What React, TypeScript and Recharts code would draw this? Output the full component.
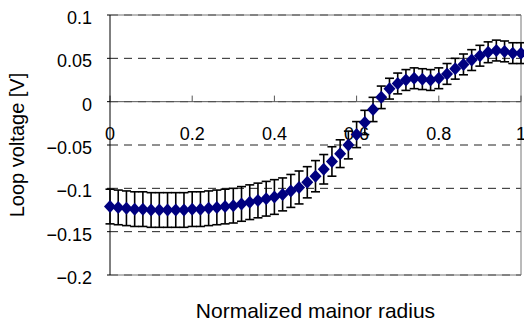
import {
  ScatterChart,
  Scatter,
  XAxis,
  YAxis,
  CartesianGrid,
  ReferenceLine,
  ErrorBar,
} from "recharts";

// normalized minor radius
const radius = [
  0, 0.02, 0.04, 0.06, 0.08, 0.1, 0.12, 0.14, 0.16, 0.18, 0.2, 0.22, 0.24,
  0.26, 0.28, 0.3, 0.32, 0.34, 0.36, 0.38, 0.4, 0.42, 0.44, 0.46, 0.48, 0.5,
  0.52, 0.54, 0.56, 0.58, 0.6, 0.62, 0.64, 0.66, 0.68, 0.7, 0.72, 0.74, 0.76,
  0.78, 0.8, 0.82, 0.84, 0.86, 0.88, 0.9, 0.92, 0.94, 0.96, 0.98, 1,
];

// loop voltage [V]
const voltage = [
  -0.121, -0.122, -0.123, -0.124, -0.124, -0.125, -0.125, -0.125, -0.125,
  -0.125, -0.124, -0.124, -0.123, -0.122, -0.121, -0.12, -0.118, -0.116,
  -0.114, -0.112, -0.11, -0.107, -0.103, -0.099, -0.093, -0.086, -0.078,
  -0.069, -0.06, -0.05, -0.038, -0.024, -0.009, 0.005, 0.015, 0.021, 0.025,
  0.027, 0.026, 0.025, 0.027, 0.032, 0.038, 0.043, 0.048, 0.053, 0.057, 0.059,
  0.058, 0.056, 0.056,
];

// error bar half-length
const spread = [
  0.02, 0.02, 0.02, 0.02, 0.02, 0.02, 0.02, 0.02, 0.02, 0.02, 0.02, 0.02, 0.02,
  0.02, 0.02, 0.02, 0.02, 0.02, 0.02, 0.02, 0.02, 0.019, 0.019, 0.019, 0.018,
  0.018, 0.017, 0.017, 0.016, 0.016, 0.015, 0.014, 0.014, 0.013, 0.012, 0.012,
  0.012, 0.012, 0.012, 0.012, 0.012, 0.012, 0.012, 0.012, 0.012, 0.012, 0.012,
  0.012, 0.012, 0.012, 0.012,
];

const yTicks = [-0.2, -0.15, -0.1, -0.05, 0, 0.05, 0.1];
const xTicks = [0, 0.2, 0.4, 0.6, 0.8, 1];
const xTickLabels = ["0", "0.2", "0.4", "0.6", "0.8", "1"];

const data = radius.map((r, i) => ({ x: r, y: voltage[i], err: spread[i] }));

const FONT = "Liberation Sans, Arial, sans-serif";

const fmtY = (v: number) => (v < 0 ? "\u2212" + Math.abs(v) : String(v));

const YTick = (props: any) => {
  const { x, y, payload } = props;
  return (
    <text x={x} y={y + 9} textAnchor="end" fontSize={18} fontFamily={FONT} fill="#000">
      {fmtY(payload.value)}
    </text>
  );
};

const XTickLabel = (props: any) => {
  const { viewBox, text } = props;
  if (!viewBox) return null;
  return (
    <text
      x={viewBox.x}
      y={viewBox.y + viewBox.height + 38}
      textAnchor="middle"
      fontSize={18}
      fontFamily={FONT}
      fill="#000"
    >
      {text}
    </text>
  );
};

const Diamond = (props: any) => {
  const { cx, cy } = props;
  return (
    <polygon
      points={`${cx},${cy - 6.5} ${cx + 6},${cy} ${cx},${cy + 6.5} ${cx - 6},${cy}`}
      fill="#000080"
    />
  );
};

export default function App() {
  return (
    <div style={{ position: "absolute", left: 0, top: 0, background: "#fff" }}>
      <ScatterChart
        width={524}
        height={326}
        margin={{ top: 15, right: 3, bottom: 0, left: 0 }}
      >
        <CartesianGrid
          vertical={false}
          stroke="#222"
          strokeDasharray="8 6"
          horizontalValues={yTicks}
        />
        <XAxis
          type="number"
          dataKey="x"
          domain={[0, 1]}
          ticks={xTicks}
          height={51}
          tick={false}
          tickLine={false}
          axisLine={false}
          label={{
            value: "Normalized mainor radius",
            position: "insideBottom",
            offset: 8,
            fontSize: 21,
            fontFamily: FONT,
            fill: "#000",
          }}
        />
        <YAxis
          type="number"
          dataKey="y"
          domain={[-0.2, 0.1]}
          ticks={yTicks}
          width={110}
          tickSize={3}
          tickMargin={15}
          tick={<YTick />}
          axisLine={{ stroke: "#000" }}
          tickLine={{ stroke: "#000" }}
          label={{
            value: "Loop voltage [V]",
            angle: -90,
            position: "insideLeft",
            offset: 17,
            fontSize: 20,
            fontFamily: FONT,
            fill: "#000",
            style: { textAnchor: "middle" },
          }}
        />
        <ReferenceLine y={0.1} stroke="#777" />
        <ReferenceLine y={-0.2} stroke="#777" />
        <ReferenceLine x={1} stroke="#777" />
        <ReferenceLine y={0} stroke="#555" />
        {xTicks.map((v, i) => (
          <ReferenceLine
            key={v}
            segment={[
              { x: v, y: 0 },
              { x: v, y: 0.007 },
            ]}
            stroke="#555"
            label={<XTickLabel text={xTickLabels[i]} />}
          />
        ))}
        <Scatter data={data} shape={<Diamond />} isAnimationActive={false}>
          <ErrorBar dataKey="err" width={4.5} stroke="#000" strokeWidth={1.6} direction="y" />
        </Scatter>
      </ScatterChart>
    </div>
  );
}
